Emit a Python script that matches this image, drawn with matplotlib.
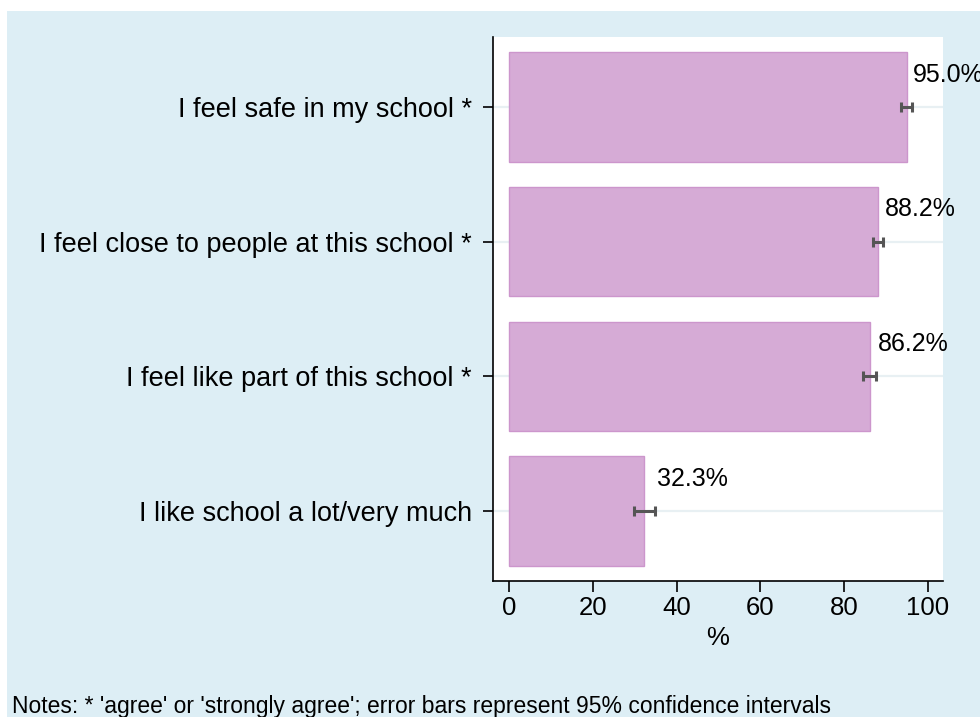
import matplotlib
matplotlib.use('Agg')
import matplotlib.pyplot as plt
from matplotlib.patches import Rectangle
import numpy as np

plt.rcParams['font.family'] = ['Liberation Sans', 'DejaVu Sans']

# data
categories = ['I feel safe in my school *',
              'I feel close to people at this school *',
              'I feel like part of this school *',
              'I like school a lot/very much']
values = [95.0, 88.2, 86.2, 32.3]
ci_low = [93.5, 86.8, 84.4, 29.9]
ci_high = [96.1, 89.3, 87.6, 34.9]
xticks = [0, 20, 40, 60, 80, 100]

bg = '#DDEEF5'
bar_col = '#D6ABD6'
bar_edge = '#CC96CC'

fig = plt.figure(figsize=(9.8, 7.17), dpi=100, facecolor='white')
# light blue outer panel (slightly offset from the top/left edge)
panel = Rectangle((7 / 980, 0), 1, (717 - 11) / 717,
                  transform=fig.transFigure, facecolor=bg,
                  edgecolor='none', zorder=-10)
fig.add_artist(panel)

ax = fig.add_axes([493 / 980, (717 - 581) / 717, 450 / 980, 544 / 717])
ax.set_zorder(1)
ax.set_facecolor('white')

y = np.arange(len(categories))
for yi in y:
    ax.axhline(yi, color='#E8F0F3', lw=1.6, zorder=1)

ax.barh(y, values, height=0.81, color=bar_col, edgecolor=bar_edge,
        linewidth=1.0, zorder=2)

lo = np.array(values) - np.array(ci_low)
hi = np.array(ci_high) - np.array(values)
ax.errorbar(values, y, xerr=[lo, hi], fmt='none', ecolor='#555555',
            elinewidth=2.2, capsize=3.8, capthick=2.2, zorder=3)

for yi, v, h in zip(y, values, ci_high):
    ax.text(h + 0.4, yi - 0.24, f'{v:.1f}%', ha='left', va='center',
            fontsize=18, color='black', zorder=4, clip_on=False)

ax.set_xlim(-3.8, 103.6)
ax.set_ylim(3.52, -0.52)
ax.set_xticks(xticks)
ax.set_xticklabels([str(t) for t in xticks], fontsize=18.5)
ax.set_yticks(y)
ax.set_yticklabels(categories, fontsize=19.5)
ax.set_xlabel('%', fontsize=18.5, labelpad=4)

for s in ['top', 'right']:
    ax.spines[s].set_visible(False)
for s in ['left', 'bottom']:
    ax.spines[s].set_linewidth(1.2)
    ax.spines[s].set_color('black')
ax.tick_params(axis='both', direction='out', width=1.2, colors='black')
ax.tick_params(axis='x', length=8, pad=3)
ax.tick_params(axis='y', length=7.2, pad=8)

fig.text(12 / 980, (717 - 706) / 717,
         "Notes: * 'agree' or 'strongly agree'; error bars represent 95% confidence intervals",
         ha='left', va='center', fontsize=16.5, color='black')

fig.savefig('out.png', dpi=100, facecolor=fig.get_facecolor())
